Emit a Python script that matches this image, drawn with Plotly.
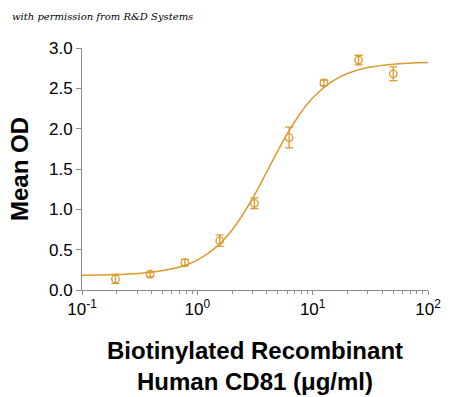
import plotly.graph_objects as go

# measured points
conc = [0.195, 0.39, 0.78, 1.5625, 3.125, 6.25, 12.5, 25, 50]
mean_od = [0.137, 0.195, 0.339, 0.612, 1.075, 1.89, 2.568, 2.85, 2.68]
err_od = [0.055, 0.03, 0.04, 0.072, 0.066, 0.128, 0.035, 0.06, 0.085]

# fitted curve
fit_x = [0.1, 0.2, 0.4, 0.7, 1, 1.5, 2, 3, 4, 5, 6, 8, 10, 15, 20, 30, 50, 100]
fit_y = [0.183, 0.191, 0.219, 0.284, 0.371, 0.547, 0.743, 1.131, 1.464, 1.728,
         1.932, 2.21, 2.38, 2.592, 2.683, 2.757, 2.80, 2.821]

x_tickvals = [0.1, 1, 10, 100]
x_ticktext = ["10<sup>-1</sup>", "10<sup>0</sup>", "10<sup>1</sup>", "10<sup>2</sup>"]
y_tickvals = [0, 0.5, 1.0, 1.5, 2.0, 2.5, 3.0]

color = "#DF9A2E"
axis_color = "#8c8c8c"
font = "Liberation Sans, Arial, sans-serif"

OFF = 8  # page body margin
W, H = 450 - OFF, 397 - OFF
PL, PT = 82 - OFF, 48 - OFF
pw, ph = 346, 242
PR, PB = W - PL - pw, H - PT - ph

fig = go.Figure()
fig.add_trace(go.Scatter(x=fit_x, y=fit_y, mode="lines", line=dict(color=color, width=1.5, shape="spline"),
                         hoverinfo="skip", showlegend=False))
fig.add_trace(go.Scatter(x=conc, y=mean_od, mode="markers",
                         marker=dict(symbol="circle-open", size=7.5, color=color, line=dict(width=1.3, color=color)),
                         error_y=dict(type="data", array=err_od, visible=True, color=color, thickness=1.3, width=4),
                         showlegend=False))

fig.update_layout(
    width=W, height=H,
    margin=dict(l=PL, r=PR, t=PT, b=PB),
    paper_bgcolor="white", plot_bgcolor="white",
    font=dict(family=font, color="black"),
    xaxis=dict(type="log", range=[-1, 2], tickvals=x_tickvals, ticktext=x_ticktext, automargin=False,
               showgrid=False, zeroline=False, showline=True, linecolor=axis_color, linewidth=1,
               ticks="outside", ticklen=4, tickcolor=axis_color, tickfont=dict(size=17, family=font),
               minor=dict(ticks="outside", ticklen=3, tickcolor=axis_color, dtick="D1", showgrid=False)),
    yaxis=dict(range=[0, 3.0], tickvals=y_tickvals, tickformat=".1f", automargin=False,
               showgrid=False, zeroline=False, showline=True, linecolor=axis_color, linewidth=1,
               ticks="outside", ticklen=5, tickcolor=axis_color, tickfont=dict(size=17, family=font)),
    annotations=[
        dict(text="<i>with permission from R&amp;D Systems</i>", xref="paper", yref="paper",
             x=-(PL - 2) / pw, y=1 + (PT - 8) / ph, xanchor="left", yanchor="middle", showarrow=False,
             font=dict(size=10, family="DejaVu Serif, serif", color="black")),
        dict(text="<b>Biotinylated Recombinant<br>Human CD81 (μg/ml)</b>", xref="paper", yref="paper",
             x=0.5, y=-(335 - OFF - PT - ph) / ph, xanchor="center", yanchor="top", showarrow=False,
             font=dict(size=24, family=font, color="black")),
        dict(text="<b>Mean OD</b>", xref="paper", yref="paper", textangle=-90,
             x=-(PL - (19 - OFF)) / pw, y=0.5, xanchor="center", yanchor="middle", showarrow=False,
             font=dict(size=24, family=font, color="black")),
    ],
)

fig.write_html("out.html")
